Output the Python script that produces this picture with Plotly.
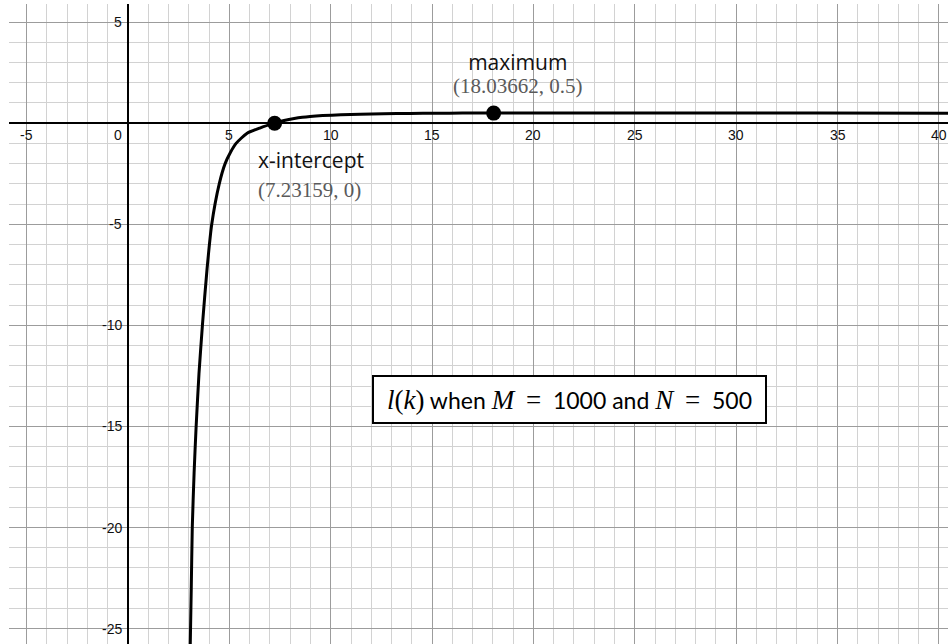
import plotly.graph_objects as go

# Sampled values of l(k) for M = 1000, N = 500
k_vals = [3.07, 3.12, 3.17, 3.26, 3.36, 3.50, 3.67, 3.90, 4.13, 4.50, 4.79, 5.05,
          5.33, 5.86, 6.50, 7.23159, 7.70, 8.20, 8.60, 8.98, 9.60, 10.5, 11.45, 12.6,
          13.9, 15.2, 16.5, 18.03662, 22.0, 28.0, 34.0, 40.6]
l_vals = [-25.8, -23.0, -20.0, -17.3, -15.0, -12.4, -10.0, -7.2, -5.0, -3.0, -2.0, -1.45,
          -1.0, -0.51, -0.24, 0.0, 0.13, 0.23, 0.29, 0.33, 0.375, 0.415, 0.445, 0.468,
          0.485, 0.494, 0.498, 0.5, 0.5, 0.5, 0.5, 0.497]

# Special points
intercept = (7.23159, 0)
maximum = (18.03662, 0.5)

# Axis tick labels
x_tick_labels = [-5, 5, 10, 15, 20, 25, 30, 35, 40]
y_tick_labels = [5, -5, -10, -15, -20, -25]

X_RANGE = [-5.871, 40.45]
Y_RANGE = [-25.76, 5.895]

fig = go.Figure()

fig.add_trace(go.Scatter(
    x=k_vals, y=l_vals, mode="lines",
    line=dict(color="black", width=3, shape="spline", smoothing=0.6),
    hoverinfo="skip", showlegend=False,
))

fig.add_trace(go.Scatter(
    x=[intercept[0], maximum[0]], y=[intercept[1], maximum[1]], mode="markers",
    marker=dict(color="black", size=15),
    hoverinfo="skip", showlegend=False,
))

annotations = []
tick_font = dict(family="Liberation Sans, Arial, sans-serif", size=14, color="#111")
for v in x_tick_labels:
    annotations.append(dict(x=v, y=0, xref="x", yref="y", text=str(v), showarrow=False,
                            xanchor="center", yanchor="middle", yshift=-12, font=tick_font))
for v in y_tick_labels:
    annotations.append(dict(x=0, y=v, xref="x", yref="y", text=str(v), showarrow=False,
                            xanchor="right", yanchor="middle", xshift=-4.5, font=tick_font))
annotations.append(dict(x=0, y=0, xref="x", yref="y", text="0", showarrow=False,
                        xanchor="right", yanchor="middle", xshift=-4.5, yshift=-12,
                        font=tick_font))


def styled(s, family, size, color):
    return f'<span style="font-family:{family};font-size:{size}px;color:{color}">{s}</span>'


def point_label(name, pt):
    return (styled(name, "Open Sans", 21, "#111") + "<br>"
            + styled(f"({pt[0]:.5f}, {pt[1]})", "Liberation Serif", 21, "#5a5a5a"))


annotations.append(dict(x=19.22, y=2.50, xref="x", yref="y",
                        text=point_label("maximum", maximum),
                        showarrow=False, xanchor="center", yanchor="middle", align="center",
                        font=dict(family="Open Sans", size=18, color="#111")))
annotations.append(dict(x=6.33, y=-2.50, xref="x", yref="y",
                        text=point_label("x-intercept", intercept),
                        showarrow=False, xanchor="left", yanchor="middle", align="left",
                        font=dict(family="Open Sans", size=22, color="#111")))


def serif(s):
    return f'<span style="font-family:Liberation Serif;font-size:27px">{s}</span>'


gap = "\u00a0 "
box_text = (serif("<i>l</i>(<i>k</i>)") + " when " + serif("<i>M</i>") + gap + serif("=")
            + gap + "1000 and " + serif("<i>N</i>") + gap + serif("=") + gap + "500")
annotations.append(dict(x=21.78, y=-13.66, xref="x", yref="y", text=box_text,
                        showarrow=False, xanchor="center", yanchor="middle",
                        font=dict(family="Lato, sans-serif", size=23, color="black"),
                        bgcolor="white", bordercolor="black", borderwidth=2, borderpad=1,
                        width=389, height=43))

axis_common = dict(
    dtick=5, tick0=0, showgrid=True, gridcolor="#9c9c9c", gridwidth=1,
    showticklabels=False, ticks="",
    zeroline=True, zerolinecolor="black", zerolinewidth=1.8,
    minor=dict(dtick=1, tick0=0, showgrid=True, gridcolor="#d2d2d2", gridwidth=1),
    showline=False, fixedrange=True,
)

fig.update_layout(
    width=948, height=644,
    margin=dict(l=9, r=0, t=4, b=0),
    paper_bgcolor="white", plot_bgcolor="white",
    xaxis=dict(range=X_RANGE, **axis_common),
    yaxis=dict(range=Y_RANGE, **axis_common),
    annotations=annotations,
    showlegend=False,
)

fig.write_html("out.html", config={"displayModeBar": False})
